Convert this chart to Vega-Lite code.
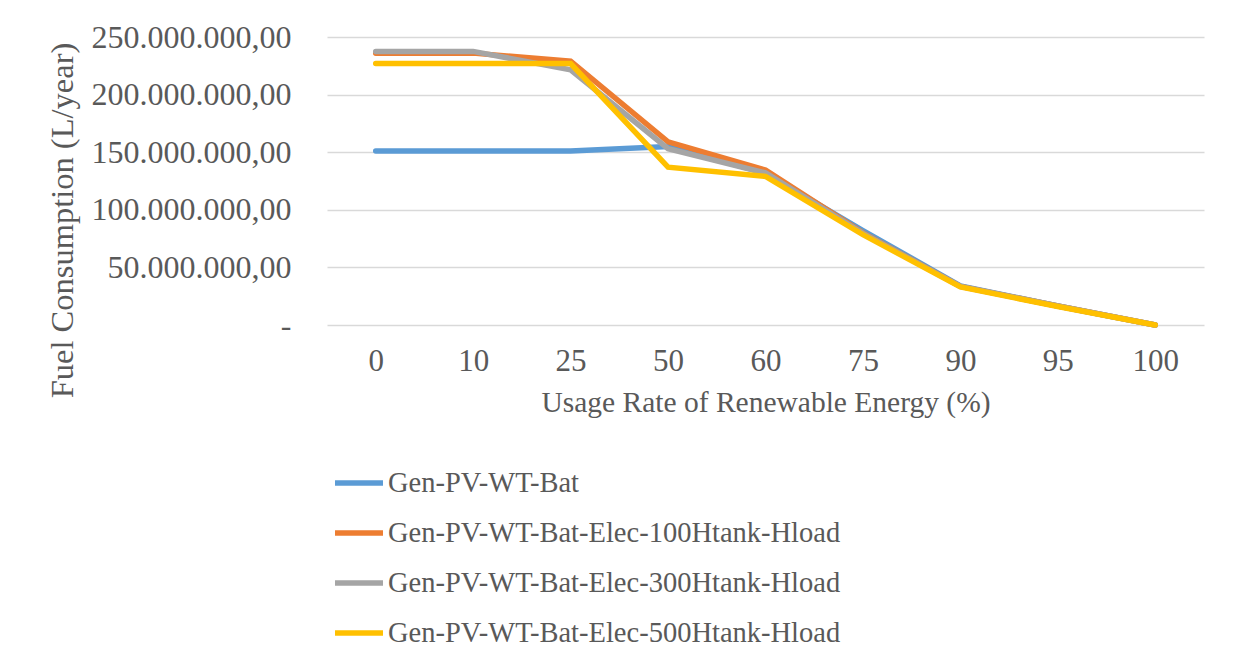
{
  "$schema": "https://vega.github.io/schema/vega-lite/v6.json",
  "width": 877,
  "height": 288,
  "autosize": {"type": "none"},
  "padding": {"left": 327, "top": 37, "right": 29, "bottom": 346},
  "background": "white",
  "config": {
    "locale": {"number": {"decimal": ",", "thousands": ".", "grouping": [3], "currency": ["", ""]}},
    "font": "Liberation Serif",
    "view": {"stroke": null}
  },
  "data": {
    "values": [
      {"rate": 0, "system": "Gen-PV-WT-Bat", "fuel": 151000000},
      {"rate": 10, "system": "Gen-PV-WT-Bat", "fuel": 151000000},
      {"rate": 25, "system": "Gen-PV-WT-Bat", "fuel": 151000000},
      {"rate": 50, "system": "Gen-PV-WT-Bat", "fuel": 155000000},
      {"rate": 60, "system": "Gen-PV-WT-Bat", "fuel": 132000000},
      {"rate": 75, "system": "Gen-PV-WT-Bat", "fuel": 82000000},
      {"rate": 90, "system": "Gen-PV-WT-Bat", "fuel": 34000000},
      {"rate": 95, "system": "Gen-PV-WT-Bat", "fuel": 16500000},
      {"rate": 100, "system": "Gen-PV-WT-Bat", "fuel": 0},

      {"rate": 0, "system": "Gen-PV-WT-Bat-Elec-100Htank-Hload", "fuel": 236000000},
      {"rate": 10, "system": "Gen-PV-WT-Bat-Elec-100Htank-Hload", "fuel": 236000000},
      {"rate": 25, "system": "Gen-PV-WT-Bat-Elec-100Htank-Hload", "fuel": 229000000},
      {"rate": 50, "system": "Gen-PV-WT-Bat-Elec-100Htank-Hload", "fuel": 159000000},
      {"rate": 60, "system": "Gen-PV-WT-Bat-Elec-100Htank-Hload", "fuel": 134500000},
      {"rate": 75, "system": "Gen-PV-WT-Bat-Elec-100Htank-Hload", "fuel": 80000000},
      {"rate": 90, "system": "Gen-PV-WT-Bat-Elec-100Htank-Hload", "fuel": 33500000},
      {"rate": 95, "system": "Gen-PV-WT-Bat-Elec-100Htank-Hload", "fuel": 16500000},
      {"rate": 100, "system": "Gen-PV-WT-Bat-Elec-100Htank-Hload", "fuel": 0},

      {"rate": 0, "system": "Gen-PV-WT-Bat-Elec-300Htank-Hload", "fuel": 237500000},
      {"rate": 10, "system": "Gen-PV-WT-Bat-Elec-300Htank-Hload", "fuel": 237500000},
      {"rate": 25, "system": "Gen-PV-WT-Bat-Elec-300Htank-Hload", "fuel": 221500000},
      {"rate": 50, "system": "Gen-PV-WT-Bat-Elec-300Htank-Hload", "fuel": 153000000},
      {"rate": 60, "system": "Gen-PV-WT-Bat-Elec-300Htank-Hload", "fuel": 132000000},
      {"rate": 75, "system": "Gen-PV-WT-Bat-Elec-300Htank-Hload", "fuel": 79500000},
      {"rate": 90, "system": "Gen-PV-WT-Bat-Elec-300Htank-Hload", "fuel": 33500000},
      {"rate": 95, "system": "Gen-PV-WT-Bat-Elec-300Htank-Hload", "fuel": 16500000},
      {"rate": 100, "system": "Gen-PV-WT-Bat-Elec-300Htank-Hload", "fuel": 0},

      {"rate": 0, "system": "Gen-PV-WT-Bat-Elec-500Htank-Hload", "fuel": 227000000},
      {"rate": 10, "system": "Gen-PV-WT-Bat-Elec-500Htank-Hload", "fuel": 227000000},
      {"rate": 25, "system": "Gen-PV-WT-Bat-Elec-500Htank-Hload", "fuel": 227000000},
      {"rate": 50, "system": "Gen-PV-WT-Bat-Elec-500Htank-Hload", "fuel": 137000000},
      {"rate": 60, "system": "Gen-PV-WT-Bat-Elec-500Htank-Hload", "fuel": 129000000},
      {"rate": 75, "system": "Gen-PV-WT-Bat-Elec-500Htank-Hload", "fuel": 78500000},
      {"rate": 90, "system": "Gen-PV-WT-Bat-Elec-500Htank-Hload", "fuel": 33000000},
      {"rate": 95, "system": "Gen-PV-WT-Bat-Elec-500Htank-Hload", "fuel": 16000000},
      {"rate": 100, "system": "Gen-PV-WT-Bat-Elec-500Htank-Hload", "fuel": 0}
    ]
  },
  "mark": {"type": "line", "strokeWidth": 5.5, "strokeCap": "round", "strokeJoin": "miter"},
  "encoding": {
    "x": {
      "field": "rate",
      "type": "ordinal",
      "scale": {"type": "point", "padding": 0.5},
      "axis": {
        "title": "Usage Rate of Renewable Energy (%)",
        "titleFont": "Liberation Serif",
        "titleFontSize": 29.5,
        "titleFontWeight": "normal",
        "titleColor": "#595959",
        "titlePadding": 12,
        "labelFont": "Liberation Serif",
        "labelFontSize": 31,
        "labelColor": "#595959",
        "labelAngle": 0,
        "labelPadding": 21,
        "ticks": false,
        "domain": false,
        "grid": false
      }
    },
    "y": {
      "field": "fuel",
      "type": "quantitative",
      "scale": {"domain": [0, 250000000], "nice": false},
      "axis": {
        "title": "Fuel Consumption (L/year)",
        "titleFont": "Liberation Serif",
        "titleFontSize": 32.5,
        "titleFontWeight": "normal",
        "titleColor": "#595959",
        "titleX": -265,
        "titleY": 183,
        "titleAngle": -90,
        "titleAlign": "center",
        "titleBaseline": "middle",
        "values": [0, 50000000, 100000000, 150000000, 200000000, 250000000],
        "format": ",.2f",
        "labelExpr": "datum.value == 0 ? '-\u2002' : datum.label",
        "labelFont": "Liberation Serif",
        "labelFontSize": 32,
        "labelColor": "#595959",
        "labelPadding": 36,
        "labelLimit": 0,
        "ticks": false,
        "domain": false,
        "grid": true,
        "gridColor": "#D9D9D9",
        "gridWidth": 1.5
      }
    },
    "color": {
      "field": "system",
      "type": "nominal",
      "scale": {
        "domain": ["Gen-PV-WT-Bat", "Gen-PV-WT-Bat-Elec-100Htank-Hload", "Gen-PV-WT-Bat-Elec-300Htank-Hload", "Gen-PV-WT-Bat-Elec-500Htank-Hload"],
        "range": ["#5B9BD5", "#ED7D31", "#A5A5A5", "#FFC000"]
      },
      "legend": {
        "title": null,
        "orient": "none",
        "legendX": 5,
        "legendY": 419,
        "direction": "vertical",
        "padding": 0,
        "symbolType": "stroke",
        "symbolSize": 2304,
        "symbolStrokeWidth": 5.5,
        "labelFont": "Liberation Serif",
        "labelFontSize": 28.5,
        "labelColor": "#595959",
        "labelOffset": 2,
        "labelLimit": 0,
        "rowPadding": 8
      }
    }
  }
}
